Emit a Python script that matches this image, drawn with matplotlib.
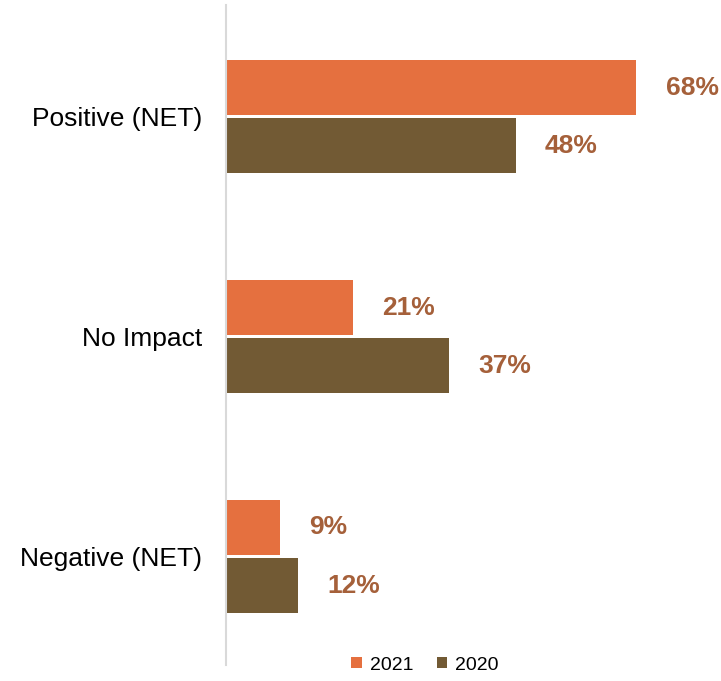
import matplotlib.pyplot as plt
import numpy as np

categories = ["Positive (NET)", "No Impact", "Negative (NET)"]
values_2021 = [68, 21, 9]
values_2020 = [48, 37, 12]
series_names = ["2021", "2020"]

plt.rcParams['font.family'] = ['Liberation Sans', 'DejaVu Sans']

col_2021 = '#E5703F'
col_2020 = '#725A34'
col_label = '#A5603A'

fig = plt.figure(figsize=(7.21, 6.81), dpi=100)
ax = fig.add_axes([226 / 721, 16 / 681, 1 - 226 / 721, 660 / 681])

# group centres in data units (top to bottom)
y = np.arange(len(categories))
h = 0.25
off = 0.132
b1 = ax.barh(y - off, values_2021, height=h, color=col_2021, label=series_names[0])
b2 = ax.barh(y + off, values_2020, height=h, color=col_2020, label=series_names[1])

for bars, vals in ((b1, values_2021), (b2, values_2020)):
    for bar, v in zip(bars, vals):
        ax.annotate(f"{v}%", (bar.get_width(), bar.get_y() + bar.get_height() / 2),
                    xytext=(21, 0), textcoords='offset points', va='center', ha='left',
                    fontsize=19, fontweight='bold', color=col_label)

ax.set_xlim(0, 82)
ax.set_ylim(2.493, -0.507)
ax.set_yticks(y)
ax.set_yticklabels(categories, fontsize=19)
ax.tick_params(axis='y', length=0, pad=17)
ax.set_xticks([])
for s in ['top', 'right', 'bottom']:
    ax.spines[s].set_visible(False)
ax.spines['left'].set_color('#D9D9D9')
ax.spines['left'].set_linewidth(1.5)

leg = fig.legend(loc='center', bbox_to_anchor=(425 / 721, 1 - 665 / 681), ncol=2,
                 frameon=False, fontsize=14, handlelength=0.55, handleheight=0.55,
                 handletextpad=0.4, columnspacing=1.2)

fig.savefig('out.png', dpi=100)
